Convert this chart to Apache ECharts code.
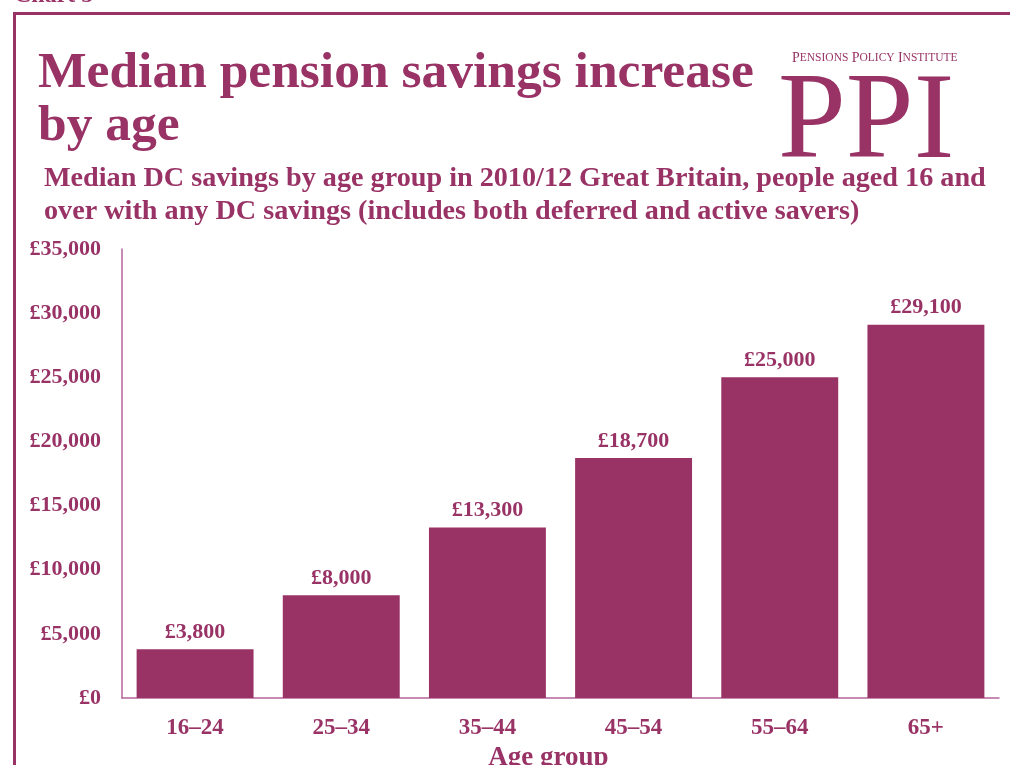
<!DOCTYPE html>
<html>
<head>
<meta charset="utf-8">
<script src="https://cdn.jsdelivr.net/npm/echarts@6/dist/echarts.min.js"></script>
<style>
  html, body { margin: 0; padding: 0; background: #fff; }
  #chart { width: 1010px; height: 765px; }
</style>
</head>
<body>
<div id="chart"></div>
<script>
// Median DC savings by age group, 2010/12, Great Britain
const ageGroups = ['16–24', '25–34', '35–44', '45–54', '55–64', '65+'];
const medianSavings = [3800, 8000, 13300, 18700, 25000, 29100];
const yTicks = [0, 5000, 10000, 15000, 20000, 25000, 30000, 35000];

const PLUM = '#993366';
const PLUM_LIGHT = '#b4649a';
const SERIF = '"Liberation Serif", "DejaVu Serif", serif';

const fmt = v => '£' + v.toLocaleString('en-GB');

const chart = echarts.init(document.getElementById('chart'));
chart.setOption({
  backgroundColor: '#ffffff',
  animation: false,
  textStyle: { fontFamily: SERIF, color: PLUM },
  grid: { left: 122, right: 11, top: 249, bottom: 67, containLabel: false, outerBoundsMode: 'none' },
  xAxis: {
    type: 'category',
    data: ageGroups,
    axisLine: { lineStyle: { color: PLUM_LIGHT, width: 1.5 } },
    axisTick: { show: false },
    axisLabel: { color: PLUM, fontFamily: SERIF, fontWeight: 'bold', fontSize: 23, margin: 19 },
    name: 'Age group',
    nameLocation: 'middle',
    nameGap: 42,
    nameTextStyle: { color: PLUM, fontFamily: SERIF, fontWeight: 'bold', fontSize: 27, padding: [0, 24, 0, 0] }
  },
  yAxis: {
    type: 'value',
    min: yTicks[0],
    max: yTicks[yTicks.length - 1],
    interval: yTicks[1] - yTicks[0],
    axisLine: { show: true, lineStyle: { color: PLUM_LIGHT, width: 1.5 } },
    axisTick: { show: false },
    splitLine: { show: false },
    axisLabel: { color: PLUM, fontFamily: SERIF, fontWeight: 'bold', fontSize: 22, margin: 21, formatter: fmt }
  },
  series: [{
    type: 'bar',
    data: medianSavings,
    barCategoryGap: '20%',
    itemStyle: { color: PLUM },
    label: {
      show: true,
      position: 'top',
      distance: 6,
      formatter: p => fmt(p.value),
      color: PLUM,
      fontFamily: SERIF,
      fontWeight: 'bold',
      fontSize: 22
    }
  }],
  graphic: [
    // frame
    { type: 'rect', shape: { x: 13, y: 12, width: 1000, height: 3 }, style: { fill: PLUM } },
    { type: 'rect', shape: { x: 13, y: 12, width: 3, height: 760 }, style: { fill: PLUM } },
    { type: 'text', left: 14, top: -16, style: { text: 'Chart 5', font: 'bold 24px ' + SERIF, fill: PLUM } },
    // logo
    { type: 'text', left: 792, top: 51, style: {
        text: '{a|P}{b|ENSIONS} {a|P}{b|OLICY} {a|I}{b|NSTITUTE}',
        rich: {
          a: { fontFamily: SERIF, fontSize: 14, fill: PLUM, color: PLUM },
          b: { fontFamily: SERIF, fontSize: 11.5, fill: PLUM, color: PLUM }
        }
      } },
    { type: 'text', left: 778, top: 64, style: { text: 'PPI', font: '122px ' + SERIF, fill: PLUM } },
    // headline
    { type: 'text', left: 38, top: 47, style: { text: 'Median pension savings increase\nby age', font: 'bold 51.5px ' + SERIF, fill: PLUM, lineHeight: 53 } },
    // subtitle
    { type: 'text', left: 44, top: 162, style: { text: 'Median DC savings by age group in 2010/12 Great Britain, people aged 16 and\nover with any DC savings (includes both deferred and active savers)', font: 'bold 28.2px ' + SERIF, fill: PLUM, lineHeight: 33 } }
  ]
});
</script>
</body>
</html>
